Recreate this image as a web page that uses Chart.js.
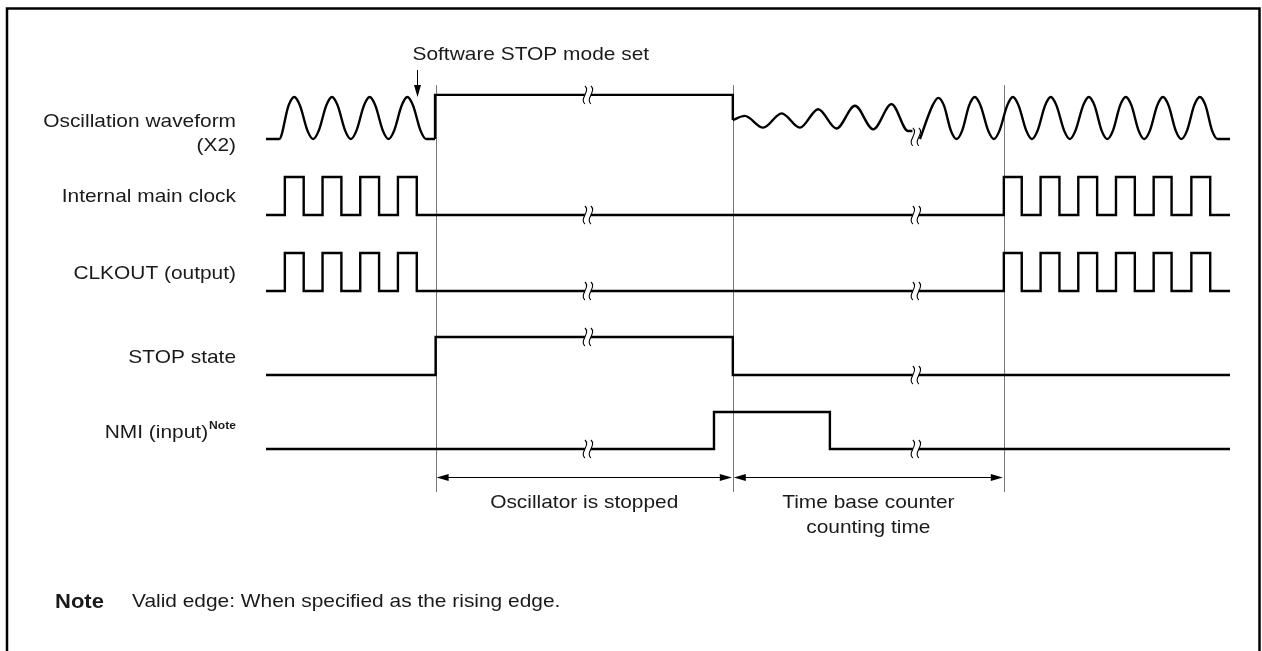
<!DOCTYPE html>
<html>
<head>
<meta charset="utf-8">
<title>Software STOP mode release by NMI</title>
<script src="https://cdn.jsdelivr.net/npm/chart.js@4.4.1/dist/chart.umd.min.js"></script>
<style>
  html, body { margin: 0; padding: 0; background: #fff; }
  #wrap { width: 1262px; height: 651px; }
</style>
</head>
<body>
<div id="wrap"><canvas id="timingChart" width="1262" height="651"></canvas></div>
<script>
// time runs in half clock periods, counted from the left end of the traces
const tEnd = 51.15;

// clock edges (level starts low and toggles at each edge)
const clockEdgesRun = [1, 2, 3, 4, 5, 6, 7, 8];
const clockEdgesRestart = [39.15, 40.1, 41.1, 42.1, 43.1, 44.1, 45.1, 46.1, 47.1, 48.05, 49.1, 50.1];
const stopEdges = [9, 24.77];
const nmiEdges = [23.77, 29.92];

// X2 oscillation: times and levels (0 = bottom of swing, 1 = top)
const oscRunT = [0, 0.7, 1.2, 1.5, 1.8, 2.2, 2.5, 2.8, 3.2, 3.5, 3.8, 4.2, 4.5, 4.8, 5.2, 5.5, 5.8, 6.2, 6.5, 6.8, 7.2, 7.5, 7.8, 8.2, 8.5, 8.97];
const oscRunV = [0, 0, 0.8, 1, 0.8, 0.2, 0, 0.2, 0.8, 1, 0.8, 0.2, 0, 0.2, 0.8, 1, 0.8, 0.2, 0, 0.2, 0.8, 1, 0.8, 0.2, 0, 0];
const oscHeldT = [8.97, 8.97, 24.77, 24.77];
const oscHeldV = [0, 1.05, 1.05, 0.45];
const oscStartT = [24.77, 25.4, 26.38, 27.36, 28.33, 29.3, 30.27, 31.25, 32.22, 33.19, 34.07, 34.3];
const oscStartV = [0.45, 0.55, 0.27, 0.61, 0.27, 0.71, 0.25, 0.79, 0.23, 0.83, 0.19, 0.19];
const oscStableT = [34.7, 35.37, 35.67, 35.97, 36.34, 36.64, 36.94, 37.31, 37.61, 37.91, 38.32, 38.62, 38.92, 39.33, 39.63, 39.93,
  40.34, 40.64, 40.94, 41.34, 41.64, 41.94, 42.35, 42.65, 42.95, 43.36, 43.66, 43.96, 44.34, 44.64, 44.94, 45.32, 45.62, 45.92,
  46.3, 46.6, 46.9, 47.29, 47.59, 47.89, 48.27, 48.57, 48.87, 49.25, 49.55, 49.85, 50.2, 50.5, 51.15];
const oscStableV = [0, 0.8, 0.98, 0.8, 0.2, 0, 0.2, 0.8, 1, 0.8, 0.2, 0, 0.2, 0.8, 1, 0.8,
  0.2, 0, 0.2, 0.8, 1, 0.8, 0.2, 0, 0.2, 0.8, 1, 0.8, 0.2, 0, 0.2, 0.8, 1, 0.8,
  0.2, 0, 0.2, 0.8, 1, 0.8, 0.2, 0, 0.2, 0.8, 1, 0.8, 0.2, 0, 0];

// markers
const guideTimes = [9, 24.77, 39.15];     // STOP set, oscillation resumes, clock restarts
const breakTimes = [17.08, 34.48];
const oscBreakLevels = [1.05, 0.05];
const stopSetTime = 8.01;

const rowLabels = [['Oscillation waveform', '(X2)'], ['Internal main clock'], ['CLKOUT (output)'], ['STOP state'], ['NMI (input)']];
const spanLabels = [['Oscillator is stopped'], ['Time base counter', 'counting time']];
const topLabel = 'Software STOP mode set';
const noteHead = 'Note';
const noteText = 'Valid edge: When specified as the rising edge.';

// layout (pixels)
const rows = [
  { top: 97, bottom: 139 },
  { top: 177, bottom: 215 },
  { top: 253, bottom: 291 },
  { top: 337, bottom: 375 },
  { top: 412, bottom: 449 }
];
const labelRight = 236;
const labelY = [[122, 146], [197], [274], [358], [433]];
const guideTop = 85, guideBottom = 492, dimY = 477;
const stretch = 1.1;
const fontFamily = '"Liberation Sans", Arial, Helvetica, sans-serif';

function rowY(r, level) {
  return rows[r].bottom - level * (rows[r].bottom - rows[r].top);
}

function stepPoints(r, edges) {
  const pts = [{ x: 0, y: rowY(r, 0) }];
  let lv = 0;
  edges.forEach(t => {
    pts.push({ x: t, y: rowY(r, lv) });
    lv = 1 - lv;
    pts.push({ x: t, y: rowY(r, lv) });
  });
  pts.push({ x: tEnd, y: rowY(r, lv) });
  return pts;
}

function levelAt(edges, t) {
  return edges.filter(e => e <= t).length % 2;
}

function wave(ts, vs) {
  return ts.map((t, i) => ({ x: t, y: rowY(0, vs[i]) }));
}

const traceStyle = {
  showLine: true, borderColor: '#000', borderWidth: 2.4, pointRadius: 0,
  borderJoinStyle: 'miter', borderCapStyle: 'butt', fill: false
};

const clockEdges = clockEdgesRun.concat(clockEdgesRestart);
const datasets = [
  { ...traceStyle, label: 'X2 running', data: wave(oscRunT, oscRunV), cubicInterpolationMode: 'monotone' },
  { ...traceStyle, label: 'X2 held', data: wave(oscHeldT, oscHeldV) },
  { ...traceStyle, label: 'X2 starting', data: wave(oscStartT, oscStartV), cubicInterpolationMode: 'monotone' },
  { ...traceStyle, label: 'X2 stable', data: wave(oscStableT, oscStableV), cubicInterpolationMode: 'monotone' },
  { ...traceStyle, label: 'Internal main clock', data: stepPoints(1, clockEdges) },
  { ...traceStyle, label: 'CLKOUT', data: stepPoints(2, clockEdges) },
  { ...traceStyle, label: 'STOP state', data: stepPoints(3, stopEdges) },
  { ...traceStyle, label: 'NMI', data: stepPoints(4, nmiEdges) }
];

function text(ctx, str, x, y, align, font) {
  ctx.save();
  ctx.font = font;
  ctx.textBaseline = 'middle';
  ctx.textAlign = align;
  ctx.translate(x, y);
  ctx.scale(stretch, 1);
  ctx.fillText(str, 0, 0);
  ctx.restore();
}

function textWidth(ctx, str, font) {
  ctx.save();
  ctx.font = font;
  const w = ctx.measureText(str).width * stretch;
  ctx.restore();
  return w;
}

function arrowHead(ctx, x, y, dx, dy) {
  // tip at (x, y), pointing along (dx, dy)
  const len = 12, half = 3.5;
  const px = -dy, py = dx;
  ctx.beginPath();
  ctx.moveTo(x, y);
  ctx.lineTo(x - dx * len + px * half, y - dy * len + py * half);
  ctx.lineTo(x - dx * len - px * half, y - dy * len - py * half);
  ctx.closePath();
  ctx.fill();
}

function breakMark(ctx, x, y) {
  ctx.fillStyle = '#fff';
  ctx.fillRect(x - 3, y - 3, 6, 6);
  ctx.strokeStyle = '#000';
  ctx.lineWidth = 1.1;
  [-3, 3].forEach(off => {
    ctx.beginPath();
    ctx.moveTo(x + off, y + 9);
    ctx.bezierCurveTo(x + off - 6, y + 4, x + off + 6, y - 4, x + off, y - 9);
    ctx.stroke();
  });
}

const decor = {
  id: 'decor',
  beforeDatasetsDraw(chart) {
    const ctx = chart.ctx, xs = chart.scales.x;
    ctx.save();
    // frame
    ctx.strokeStyle = '#000';
    ctx.lineWidth = 2.5;
    ctx.beginPath();
    ctx.moveTo(7, 651);
    ctx.lineTo(7, 8.5);
    ctx.lineTo(1259.5, 8.5);
    ctx.lineTo(1259.5, 651);
    ctx.stroke();
    // guide lines
    ctx.strokeStyle = '#777';
    ctx.lineWidth = 1;
    guideTimes.forEach(t => {
      const x = Math.round(xs.getPixelForValue(t)) + 0.5;
      ctx.beginPath();
      ctx.moveTo(x, guideTop);
      ctx.lineTo(x, guideBottom);
      ctx.stroke();
    });
    ctx.restore();
  },
  afterDatasetsDraw(chart) {
    const ctx = chart.ctx, xs = chart.scales.x, ys = chart.scales.y;
    ctx.save();
    // break marks
    breakTimes.forEach((t, i) => {
      const x = xs.getPixelForValue(t);
      breakMark(ctx, x, ys.getPixelForValue(rowY(0, oscBreakLevels[i])));
      breakMark(ctx, x, ys.getPixelForValue(rowY(1, levelAt(clockEdges, t))));
      breakMark(ctx, x, ys.getPixelForValue(rowY(2, levelAt(clockEdges, t))));
      breakMark(ctx, x, ys.getPixelForValue(rowY(3, levelAt(stopEdges, t))));
      breakMark(ctx, x, ys.getPixelForValue(rowY(4, levelAt(nmiEdges, t))));
    });

    ctx.fillStyle = '#000';
    ctx.strokeStyle = '#000';
    ctx.lineWidth = 1;
    // dimension arrows
    for (let i = 0; i < guideTimes.length - 1; i++) {
      const x0 = xs.getPixelForValue(guideTimes[i]) + 1;
      const x1 = xs.getPixelForValue(guideTimes[i + 1]) - 1;
      ctx.beginPath();
      ctx.moveTo(x0 + 6, dimY + 0.5);
      ctx.lineTo(x1 - 6, dimY + 0.5);
      ctx.stroke();
      arrowHead(ctx, x0, dimY + 0.5, -1, 0);
      arrowHead(ctx, x1, dimY + 0.5, 1, 0);
    }
    // STOP mode set arrow
    const sx = Math.round(xs.getPixelForValue(stopSetTime)) + 0.5;
    ctx.beginPath();
    ctx.moveTo(sx, 70);
    ctx.lineTo(sx, 88);
    ctx.stroke();
    arrowHead(ctx, sx, 97, 0, 1);

    // texts
    ctx.fillStyle = '#1a1a1a';
    const f = '19px ' + fontFamily;
    const supFont = 'bold 11px ' + fontFamily;
    text(ctx, topLabel, sx - 5, 55, 'left', f);
    const supW = textWidth(ctx, noteHead, supFont) + 1;
    rowLabels.forEach((lines, r) => {
      const right = r === 4 ? labelRight - supW : labelRight;
      lines.forEach((s, k) => text(ctx, s, right, labelY[r][k], 'right', f));
    });
    // superscript on the NMI label
    text(ctx, noteHead, labelRight - supW + 1, labelY[4][0] - 7, 'left', supFont);
    spanLabels.forEach((lines, i) => {
      const cx = (xs.getPixelForValue(guideTimes[i]) + xs.getPixelForValue(guideTimes[i + 1])) / 2;
      lines.forEach((s, k) => text(ctx, s, cx, 503 + k * 25, 'center', f));
    });
    text(ctx, noteHead, 55, 602, 'left', 'bold 20px ' + fontFamily);
    text(ctx, noteText, 132, 602, 'left', f);
    ctx.restore();
  }
};

const chart = new Chart(document.getElementById('timingChart').getContext('2d'), {
  type: 'scatter',
  data: { datasets: datasets },
  options: {
    responsive: false,
    animation: false,
    devicePixelRatio: 1,
    layout: { padding: { left: 266, right: 32, top: 0, bottom: 0 } },
    scales: {
      x: { type: 'linear', min: 0, max: tEnd, display: false },
      y: { type: 'linear', min: 0, max: 651, reverse: true, display: false }
    },
    plugins: { legend: { display: false }, tooltip: { enabled: false } }
  },
  plugins: [decor]
});
</script>
</body>
</html>
